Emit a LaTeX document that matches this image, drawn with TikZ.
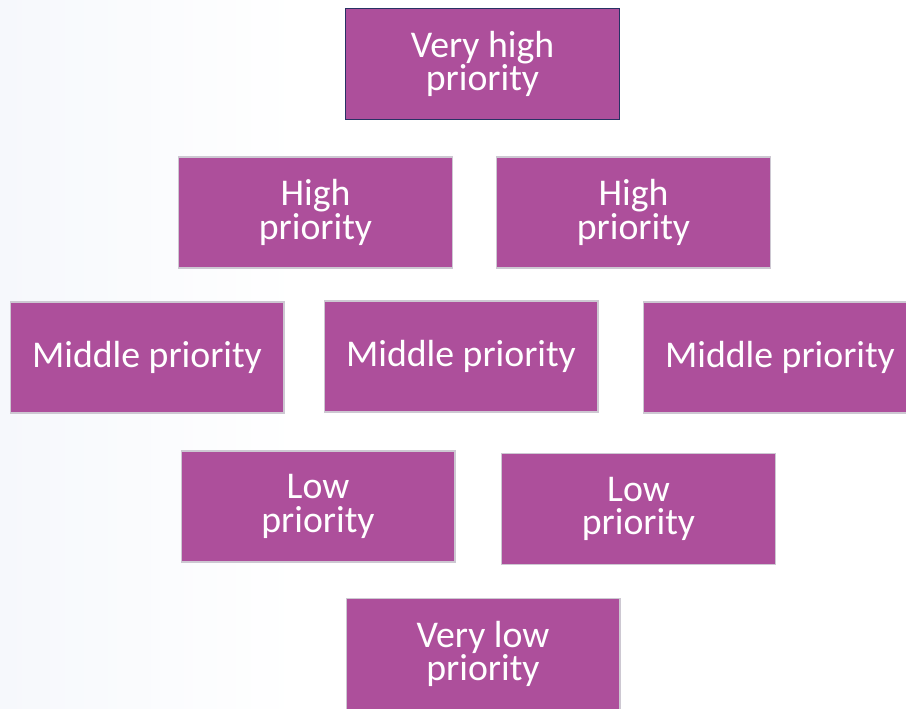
\documentclass[tikz,border=0pt]{standalone}
\usepackage{fontspec}
\setmainfont{Carlito}
\usepackage{xcolor}
\usepackage{tikz}
\usetikzlibrary{positioning}
\definecolor{prioviolet}{RGB}{173,79,155}
\definecolor{prioedge}{RGB}{205,200,210}
\definecolor{topedge}{RGB}{40,50,100}
\definecolor{bgtint}{RGB}{246,248,252}
\tikzset{
  prio/.style={rectangle, draw=prioedge, fill=prioviolet, text=white,
    minimum width=5.48cm, minimum height=2.22cm, align=center,
    font=\fontsize{21.5}{19}\selectfont, line width=0.6pt},
  topprio/.style={prio, draw=topedge, line width=0.9pt}
}

\begin{document}
\begin{tikzpicture}[x=0.02cm, y=-0.02cm]
  \useasboundingbox (0,0) rectangle (906,708);
  \clip (0,0) rectangle (906,708);
  % faint backdrop on the left
  \shade[left color=bgtint, right color=white] (0,0) rectangle (300,708);

  % Top level
  \node[topprio] (vhigh) at (482.5,64) {Very high\\priority};

  % High
  \node[prio] (highl) at (315.5,212.5) {High\\priority};
  \node[prio] (highr) at (633.5,212.5) {High\\priority};

  % Middle
  \node[prio] (midl) at (147,357.5) {Middle priority};
  \node[prio] (midc) at (461,356.5) {Middle priority};
  \node[prio] (midr) at (780,357.5) {Middle priority};

  % Low
  \node[prio] (lowl) at (318,506.5) {Low\\priority};
  \node[prio] (lowr) at (638.5,509) {Low\\priority};

  % Bottom level
  \node[prio] (vlow) at (483,654) {Very low\\priority};
\end{tikzpicture}
\end{document}
